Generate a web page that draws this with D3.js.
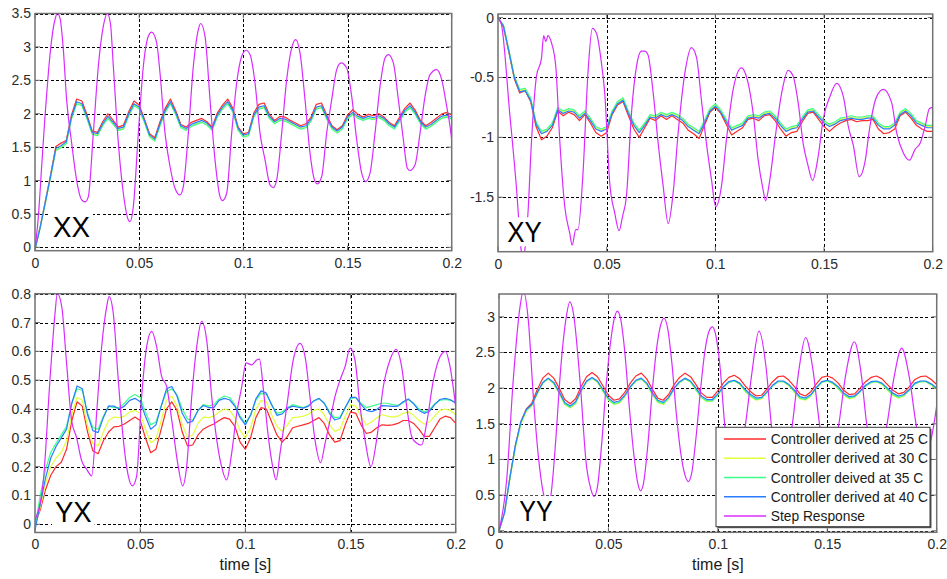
<!DOCTYPE html>
<html><head><meta charset="utf-8">
<script src="https://cdn.jsdelivr.net/npm/d3@7"></script>
<style>
body{margin:0;background:#fff}
svg{display:block}
text{font-family:"Liberation Sans",Arial,Helvetica,sans-serif}
</style></head>
<body><svg id="chart" width="947" height="579"></svg>
<script>
// ---------- DATA ----------
const sampleTimes = [0,0.0025,0.005,0.0075,0.01,0.0125,0.015,0.0175,0.02,0.0225,0.025,0.0275,0.03,0.0325,0.035,0.0375,0.04,0.0425,0.045,0.0475,0.05,0.0525,0.055,0.0575,0.06,0.0625,0.065,0.0675,0.07,0.0725,0.075,0.0775,0.08,0.0825,0.085,0.0875,0.09,0.0925,0.095,0.0975,0.1,0.1025,0.105,0.1075,0.11,0.1125,0.115,0.1175,0.12,0.1225,0.125,0.1275,0.13,0.1325,0.135,0.1375,0.14,0.1425,0.145,0.1475,0.15,0.1525,0.155,0.1575,0.16,0.1625,0.165,0.1675,0.17,0.1725,0.175,0.1775,0.18,0.1825,0.185,0.1875,0.19,0.1925,0.195,0.1975,0.2];

const seriesNames = ["Controller derived at 25 C","Controller derived at 30 C","Controller deived at 35 C","Controller derived at 40 C","Step Response"];
const seriesColors = ["#ff2a2a","#e2ff3c","#3dff8a","#2a7dff","#d82cff"];

const xTicks = [0,0.05,0.1,0.15,0.2];
const xxYTicks = [0,0.5,1,1.5,2,2.5,3,3.5];
const xyYTicks = [0,-0.5,-1,-1.5];
const yxYTicks = [0,0.1,0.2,0.3,0.4,0.5,0.6,0.7,0.8];
const yyYTicks = [0,0.5,1,1.5,2,2.5,3];

// XX
const xx25 = [-0.03,0.31,0.7,1.09,1.51,1.56,1.6,1.98,2.22,2.19,1.98,1.74,1.72,1.88,2.0,1.9,1.8,1.83,2.03,2.19,2.13,1.92,1.7,1.64,1.88,2.08,2.22,2.05,1.84,1.8,1.87,1.9,1.93,1.88,1.8,2.01,2.13,2.22,2.08,1.8,1.7,1.72,2.01,2.14,2.16,1.99,1.9,1.96,1.95,1.9,1.86,1.82,1.85,1.95,2.14,2.16,1.98,1.82,1.76,1.82,1.98,2.06,1.99,1.95,1.99,1.97,2.0,1.95,1.87,1.82,1.95,2.08,2.16,2.05,1.9,1.82,1.87,1.93,1.99,2.02,1.98];
const xx30 = [-0.03,0.29,0.67,1.05,1.46,1.5,1.56,1.93,2.16,2.13,1.93,1.7,1.68,1.83,1.94,1.85,1.76,1.78,1.98,2.13,2.08,1.88,1.66,1.6,1.83,2.03,2.16,2.0,1.8,1.76,1.82,1.85,1.88,1.84,1.76,1.96,2.08,2.16,2.03,1.76,1.66,1.68,1.96,2.08,2.1,1.94,1.86,1.91,1.9,1.86,1.82,1.78,1.8,1.9,2.08,2.1,1.93,1.78,1.72,1.78,1.93,2.0,1.94,1.91,1.94,1.92,1.95,1.91,1.83,1.78,1.9,2.03,2.1,2.0,1.86,1.78,1.82,1.88,1.94,1.96,1.93];
const xx35 = [-0.03,0.3,0.67,1.05,1.45,1.49,1.55,1.92,2.15,2.12,1.92,1.69,1.67,1.82,1.93,1.84,1.75,1.77,1.97,2.12,2.07,1.87,1.65,1.59,1.82,2.02,2.15,1.99,1.79,1.75,1.81,1.84,1.87,1.83,1.75,1.95,2.07,2.15,2.02,1.75,1.65,1.67,1.95,2.07,2.09,1.93,1.85,1.9,1.89,1.85,1.81,1.77,1.79,1.89,2.07,2.09,1.92,1.77,1.71,1.77,1.92,1.99,1.93,1.9,1.93,1.91,1.94,1.9,1.82,1.77,1.89,2.02,2.09,1.99,1.85,1.77,1.81,1.87,1.93,1.95,1.92];
const xx40 = [-0.03,0.3,0.68,1.07,1.48,1.52,1.58,1.95,2.18,2.15,1.95,1.72,1.7,1.85,1.96,1.87,1.78,1.8,2.0,2.15,2.1,1.9,1.68,1.62,1.85,2.05,2.18,2.02,1.82,1.78,1.84,1.87,1.9,1.86,1.78,1.98,2.1,2.18,2.05,1.78,1.68,1.7,1.98,2.1,2.12,1.96,1.88,1.93,1.92,1.88,1.84,1.8,1.82,1.92,2.1,2.12,1.95,1.8,1.74,1.8,1.95,2.02,1.96,1.93,1.96,1.94,1.97,1.93,1.85,1.8,1.92,2.05,2.12,2.02,1.88,1.8,1.84,1.9,1.96,1.98,1.95];
const xxStep = [[0,-0.03],[0.0016,0.46],[0.0032,1.21],[0.0048,1.96],[0.0064,2.61],[0.008,3.11],[0.0096,3.41],[0.0107,3.5],[0.012,3.43],[0.0136,2.96],[0.0152,2.2],[0.0176,1.56],[0.02,1.0],[0.0224,0.71],[0.024,0.68],[0.0256,0.76],[0.028,1.71],[0.0304,2.71],[0.0328,3.31],[0.0347,3.5],[0.0362,3.35],[0.0376,2.71],[0.04,1.56],[0.0424,0.81],[0.0448,0.41],[0.0456,0.385],[0.0472,0.61],[0.0496,1.71],[0.052,2.71],[0.0544,3.16],[0.056,3.22],[0.0584,3.06],[0.06,2.61],[0.0624,1.71],[0.0648,1.21],[0.0672,0.885],[0.0696,0.785],[0.0712,0.91],[0.0736,1.71],[0.076,2.71],[0.0784,3.26],[0.0795,3.35],[0.0816,3.16],[0.084,2.21],[0.0864,1.31],[0.0888,0.76],[0.09,0.7],[0.092,0.81],[0.0944,1.71],[0.0968,2.46],[0.0992,2.86],[0.1013,2.95],[0.1032,2.885],[0.1056,2.46],[0.108,1.71],[0.1104,1.31],[0.1128,0.935],[0.1144,0.895],[0.116,1.01],[0.1184,1.71],[0.1208,2.51],[0.1232,2.985],[0.1251,3.11],[0.1272,2.91],[0.1296,2.21],[0.132,1.41],[0.1344,0.985],[0.1355,0.95],[0.1376,1.06],[0.14,1.71],[0.1424,2.21],[0.1448,2.66],[0.1469,2.76],[0.1496,2.685],[0.152,2.26],[0.1544,1.61],[0.1568,1.11],[0.1587,0.985],[0.1608,1.11],[0.1632,1.71],[0.1656,2.41],[0.168,2.835],[0.1696,2.885],[0.172,2.76],[0.1744,2.21],[0.1768,1.61],[0.1787,1.185],[0.18,1.15],[0.1824,1.235],[0.1848,1.71],[0.1872,2.26],[0.1896,2.585],[0.1928,2.66],[0.1952,2.51],[0.1976,2.11],[0.1992,1.81],[0.2,1.61]];

// XY
const xy25 = [0,-0.08,-0.29,-0.51,-0.63,-0.61,-0.7,-0.91,-1.02,-0.99,-0.92,-0.78,-0.82,-0.79,-0.81,-0.86,-0.81,-0.88,-0.96,-0.99,-0.96,-0.81,-0.73,-0.7,-0.82,-0.93,-1.0,-0.92,-0.84,-0.86,-0.82,-0.85,-0.82,-0.85,-0.88,-0.94,-0.97,-1.01,-0.9,-0.79,-0.75,-0.8,-0.89,-0.98,-0.95,-0.92,-0.85,-0.84,-0.86,-0.82,-0.81,-0.86,-0.93,-0.99,-0.96,-0.95,-0.87,-0.8,-0.79,-0.85,-0.91,-0.95,-0.91,-0.88,-0.86,-0.85,-0.87,-0.86,-0.86,-0.85,-0.93,-0.97,-0.96,-0.93,-0.82,-0.79,-0.84,-0.9,-0.93,-0.95,-0.95];
const xy30 = [0,-0.07,-0.27,-0.49,-0.61,-0.6,-0.68,-0.88,-0.96,-0.94,-0.89,-0.76,-0.79,-0.77,-0.78,-0.83,-0.79,-0.85,-0.92,-0.94,-0.92,-0.79,-0.71,-0.68,-0.79,-0.89,-0.95,-0.89,-0.82,-0.83,-0.8,-0.82,-0.8,-0.82,-0.85,-0.9,-0.93,-0.96,-0.87,-0.77,-0.73,-0.78,-0.86,-0.93,-0.91,-0.89,-0.83,-0.82,-0.83,-0.8,-0.79,-0.83,-0.89,-0.94,-0.92,-0.91,-0.84,-0.78,-0.77,-0.82,-0.87,-0.9,-0.88,-0.85,-0.84,-0.83,-0.84,-0.84,-0.83,-0.83,-0.89,-0.92,-0.92,-0.89,-0.8,-0.77,-0.81,-0.87,-0.89,-0.91,-0.91];
const xy35 = [0,-0.06,-0.27,-0.49,-0.6,-0.59,-0.67,-0.87,-0.95,-0.93,-0.88,-0.75,-0.78,-0.76,-0.77,-0.82,-0.78,-0.84,-0.91,-0.93,-0.91,-0.78,-0.7,-0.67,-0.78,-0.88,-0.94,-0.88,-0.81,-0.82,-0.79,-0.81,-0.79,-0.81,-0.84,-0.89,-0.92,-0.95,-0.86,-0.76,-0.72,-0.77,-0.85,-0.92,-0.9,-0.88,-0.82,-0.81,-0.82,-0.79,-0.78,-0.82,-0.88,-0.93,-0.91,-0.9,-0.83,-0.77,-0.76,-0.81,-0.86,-0.89,-0.87,-0.84,-0.83,-0.82,-0.83,-0.83,-0.82,-0.82,-0.88,-0.91,-0.91,-0.88,-0.79,-0.76,-0.8,-0.86,-0.88,-0.9,-0.9];
const xy40 = [0,-0.07,-0.28,-0.5,-0.62,-0.61,-0.69,-0.89,-0.97,-0.95,-0.9,-0.77,-0.8,-0.78,-0.79,-0.84,-0.8,-0.86,-0.93,-0.95,-0.93,-0.8,-0.72,-0.69,-0.8,-0.9,-0.96,-0.9,-0.83,-0.84,-0.81,-0.83,-0.81,-0.83,-0.86,-0.91,-0.94,-0.97,-0.88,-0.78,-0.74,-0.79,-0.87,-0.94,-0.92,-0.9,-0.84,-0.83,-0.84,-0.81,-0.8,-0.84,-0.9,-0.95,-0.93,-0.92,-0.85,-0.79,-0.78,-0.83,-0.88,-0.91,-0.89,-0.86,-0.85,-0.84,-0.85,-0.85,-0.84,-0.84,-0.9,-0.93,-0.93,-0.9,-0.81,-0.78,-0.82,-0.88,-0.9,-0.92,-0.92];
const xyStep = [[0,0],[0.0015,-0.05],[0.0054,-0.8],[0.0084,-1.4],[0.0107,-1.95],[0.0115,-2.05],[0.0123,-1.95],[0.0138,-1.63],[0.0153,-1.07],[0.0177,-0.49],[0.02,-0.34],[0.021,-0.15],[0.022,-0.2],[0.023,-0.15],[0.0246,-0.21],[0.0266,-0.41],[0.0284,-1.02],[0.0307,-1.575],[0.033,-1.8],[0.0341,-1.9],[0.0358,-1.77],[0.0368,-1.77],[0.0391,-1.3],[0.0414,-0.46],[0.0434,-0.09],[0.0453,-0.13],[0.0476,-0.38],[0.0491,-0.63],[0.0514,-1.38],[0.0537,-1.63],[0.0557,-1.78],[0.0573,-1.66],[0.0591,-1.49],[0.0614,-0.8],[0.0637,-0.41],[0.066,-0.28],[0.0675,-0.28],[0.069,-0.31],[0.0714,-0.63],[0.0737,-1.05],[0.076,-1.41],[0.0783,-1.72],[0.0806,-1.46],[0.0829,-0.96],[0.086,-0.46],[0.089,-0.25],[0.0913,-0.33],[0.0936,-0.69],[0.0959,-1.05],[0.0982,-1.35],[0.1002,-1.58],[0.1028,-1.41],[0.1051,-1.02],[0.1082,-0.6],[0.112,-0.42],[0.1151,-0.55],[0.1174,-0.8],[0.1197,-1.19],[0.122,-1.44],[0.1231,-1.53],[0.1251,-1.35],[0.1274,-1.02],[0.1305,-0.63],[0.1335,-0.44],[0.1358,-0.49],[0.1381,-0.71],[0.1404,-1.05],[0.1427,-1.24],[0.1447,-1.36],[0.1473,-1.16],[0.1496,-0.85],[0.1527,-0.66],[0.1558,-0.55],[0.1589,-0.66],[0.1612,-0.91],[0.1635,-1.07],[0.1662,-1.33],[0.1688,-1.21],[0.1711,-0.91],[0.1742,-0.66],[0.1773,-0.6],[0.1811,-0.71],[0.1834,-0.96],[0.1865,-1.13],[0.1893,-1.19],[0.1919,-1.1],[0.1942,-1.05],[0.1965,-0.91],[0.1985,-0.76],[0.2,-0.75]];

// YX
const yx25 = [0,0.05,0.12,0.17,0.2,0.215,0.26,0.36,0.425,0.41,0.32,0.255,0.245,0.29,0.32,0.338,0.34,0.348,0.36,0.372,0.36,0.3,0.248,0.26,0.33,0.4,0.425,0.395,0.32,0.272,0.275,0.31,0.33,0.34,0.348,0.36,0.37,0.365,0.34,0.285,0.26,0.3,0.37,0.405,0.4,0.355,0.31,0.285,0.305,0.335,0.34,0.345,0.35,0.36,0.37,0.35,0.31,0.285,0.29,0.345,0.39,0.385,0.345,0.315,0.32,0.335,0.345,0.343,0.345,0.35,0.36,0.36,0.35,0.33,0.305,0.305,0.335,0.365,0.375,0.37,0.35];
const yx30 = [-0.01,0.06,0.14,0.2,0.23,0.25,0.29,0.38,0.44,0.43,0.34,0.28,0.272,0.32,0.36,0.372,0.37,0.375,0.39,0.395,0.385,0.33,0.283,0.295,0.36,0.43,0.445,0.41,0.345,0.302,0.31,0.35,0.372,0.37,0.375,0.39,0.4,0.395,0.37,0.325,0.3,0.335,0.4,0.43,0.425,0.38,0.34,0.322,0.345,0.37,0.372,0.375,0.382,0.395,0.4,0.38,0.345,0.322,0.33,0.375,0.415,0.41,0.375,0.345,0.355,0.37,0.38,0.375,0.372,0.375,0.385,0.39,0.378,0.36,0.348,0.355,0.375,0.395,0.4,0.395,0.38];
const yx35 = [-0.01,0.1,0.19,0.25,0.28,0.31,0.34,0.42,0.47,0.465,0.385,0.335,0.33,0.375,0.41,0.405,0.405,0.42,0.44,0.45,0.44,0.39,0.345,0.355,0.41,0.46,0.47,0.45,0.4,0.365,0.362,0.395,0.415,0.41,0.415,0.435,0.445,0.44,0.415,0.375,0.35,0.38,0.43,0.455,0.45,0.415,0.385,0.39,0.405,0.415,0.41,0.405,0.412,0.428,0.435,0.42,0.39,0.37,0.372,0.405,0.435,0.44,0.42,0.405,0.41,0.415,0.42,0.42,0.415,0.412,0.422,0.432,0.42,0.4,0.39,0.398,0.418,0.43,0.433,0.43,0.425];
const yx40 = [-0.02,0.07,0.16,0.23,0.27,0.3,0.33,0.42,0.48,0.47,0.38,0.325,0.318,0.37,0.41,0.41,0.4,0.41,0.43,0.437,0.425,0.375,0.33,0.345,0.41,0.47,0.478,0.445,0.385,0.352,0.358,0.395,0.412,0.405,0.405,0.43,0.437,0.432,0.41,0.37,0.345,0.378,0.435,0.463,0.455,0.415,0.378,0.383,0.402,0.41,0.406,0.403,0.41,0.428,0.437,0.42,0.385,0.362,0.368,0.405,0.44,0.44,0.415,0.395,0.391,0.398,0.412,0.411,0.409,0.41,0.425,0.435,0.418,0.395,0.385,0.392,0.415,0.433,0.437,0.432,0.42];
const yxStep = [[0,0.015],[0.004,0.154],[0.0071,0.5],[0.0095,0.73],[0.0106,0.8],[0.0127,0.756],[0.015,0.56],[0.0174,0.36],[0.0198,0.3],[0.0222,0.22],[0.0246,0.19],[0.027,0.168],[0.0293,0.385],[0.0317,0.617],[0.0341,0.756],[0.0352,0.79],[0.0372,0.733],[0.0396,0.5],[0.042,0.293],[0.0444,0.166],[0.0463,0.133],[0.0483,0.166],[0.0507,0.443],[0.0531,0.617],[0.0555,0.669],[0.0578,0.617],[0.0602,0.513],[0.0626,0.478],[0.065,0.362],[0.0681,0.2],[0.0702,0.133],[0.0721,0.2],[0.0745,0.443],[0.0769,0.617],[0.0792,0.704],[0.0816,0.64],[0.084,0.443],[0.0864,0.293],[0.0887,0.2],[0.0911,0.154],[0.0935,0.247],[0.0959,0.385],[0.0983,0.478],[0.1003,0.56],[0.103,0.553],[0.1054,0.57],[0.1067,0.573],[0.1086,0.466],[0.1109,0.304],[0.113,0.2],[0.1146,0.154],[0.1165,0.247],[0.1197,0.409],[0.1228,0.571],[0.126,0.628],[0.1284,0.582],[0.1307,0.443],[0.1331,0.293],[0.1358,0.214],[0.1379,0.281],[0.1403,0.362],[0.1426,0.443],[0.145,0.5],[0.1474,0.547],[0.1498,0.611],[0.1521,0.57],[0.1545,0.409],[0.1569,0.293],[0.1597,0.2],[0.1624,0.293],[0.1656,0.478],[0.1688,0.571],[0.1716,0.607],[0.1743,0.547],[0.1767,0.409],[0.1791,0.304],[0.1815,0.281],[0.1838,0.275],[0.1862,0.351],[0.1894,0.5],[0.1926,0.582],[0.1952,0.6],[0.1973,0.547],[0.2,0.409]];

// YY
const yy25 = [0,0.25,0.75,1.2,1.53,1.71,1.79,1.98,2.14,2.21,2.14,2.0,1.84,1.78,1.85,2.02,2.16,2.22,2.16,2.03,1.9,1.83,1.85,1.94,2.07,2.17,2.21,2.13,1.99,1.86,1.83,1.91,2.05,2.15,2.21,2.16,2.05,1.93,1.87,1.87,1.96,2.07,2.15,2.18,2.13,2.03,1.95,1.89,1.9,1.99,2.09,2.16,2.17,2.11,2.02,1.92,1.89,1.95,2.06,2.15,2.17,2.14,2.07,1.97,1.91,1.92,2.0,2.09,2.15,2.17,2.13,2.05,1.97,1.92,1.94,2.02,2.12,2.16,2.17,2.12,2.05];
const yy30 = [0,0.24,0.73,1.17,1.5,1.68,1.75,1.92,2.07,2.13,2.06,1.92,1.77,1.72,1.78,1.95,2.09,2.14,2.08,1.95,1.83,1.77,1.79,1.88,2.01,2.1,2.13,2.05,1.91,1.8,1.77,1.85,1.99,2.08,2.13,2.08,1.97,1.86,1.81,1.82,1.9,2.01,2.08,2.1,2.05,1.95,1.88,1.83,1.85,1.94,2.03,2.09,2.09,2.03,1.94,1.85,1.83,1.89,2.0,2.08,2.1,2.06,1.99,1.9,1.85,1.87,1.95,2.03,2.08,2.09,2.05,1.97,1.9,1.86,1.89,1.97,2.06,2.09,2.09,2.04,1.98];
const yy35 = [0,0.25,0.74,1.18,1.51,1.69,1.76,1.93,2.07,2.13,2.07,1.93,1.78,1.73,1.79,1.96,2.09,2.14,2.09,1.96,1.84,1.78,1.8,1.89,2.01,2.1,2.13,2.06,1.92,1.81,1.78,1.86,1.99,2.08,2.13,2.09,1.98,1.87,1.82,1.82,1.91,2.01,2.08,2.1,2.06,1.96,1.89,1.84,1.86,1.94,2.03,2.09,2.09,2.04,1.95,1.86,1.84,1.9,2.0,2.08,2.1,2.07,2.0,1.91,1.86,1.88,1.95,2.03,2.08,2.09,2.06,1.98,1.91,1.87,1.9,1.97,2.06,2.09,2.09,2.05,1.99];
const yy40 = [0,0.25,0.75,1.2,1.53,1.7,1.77,1.94,2.08,2.14,2.08,1.95,1.8,1.75,1.81,1.97,2.1,2.15,2.1,1.98,1.86,1.8,1.82,1.9,2.02,2.11,2.14,2.07,1.94,1.83,1.8,1.87,2.0,2.09,2.14,2.1,2.0,1.89,1.84,1.84,1.92,2.02,2.09,2.11,2.07,1.98,1.91,1.86,1.87,1.95,2.04,2.1,2.1,2.05,1.97,1.88,1.86,1.91,2.01,2.09,2.11,2.08,2.02,1.93,1.88,1.89,1.96,2.04,2.09,2.1,2.07,2.0,1.93,1.89,1.91,1.98,2.07,2.1,2.1,2.06,2.0];
const yyStep = [[0,0],[0.0035,0.71],[0.0065,2.11],[0.0096,3.14],[0.0111,3.36],[0.0134,2.95],[0.0157,1.88],[0.018,1.04],[0.0203,0.52],[0.022,0.35],[0.0237,0.5],[0.026,1.3],[0.028,2.2],[0.0305,2.95],[0.0324,3.21],[0.034,3.05],[0.037,2.11],[0.04,0.9],[0.042,0.58],[0.0434,0.48],[0.045,0.62],[0.047,1.25],[0.049,2.05],[0.051,2.65],[0.0525,2.95],[0.0541,3.08],[0.0555,2.98],[0.0575,2.5],[0.0595,1.75],[0.0615,1.1],[0.0632,0.7],[0.0647,0.56],[0.066,0.66],[0.068,1.2],[0.07,1.95],[0.072,2.55],[0.074,2.9],[0.0754,2.98],[0.077,2.85],[0.079,2.35],[0.081,1.65],[0.083,1.1],[0.085,0.78],[0.0865,0.69],[0.088,0.8],[0.09,1.3],[0.092,1.95],[0.094,2.5],[0.096,2.8],[0.0975,2.86],[0.099,2.75],[0.101,2.3],[0.1033,1.44],[0.108,0.82],[0.1124,1.44],[0.1155,2.2],[0.1188,2.8],[0.122,2.3],[0.1246,1.44],[0.129,0.88],[0.1338,1.44],[0.137,2.25],[0.1401,2.71],[0.1435,2.25],[0.1467,1.44],[0.1509,0.97],[0.155,1.44],[0.1585,2.2],[0.1624,2.65],[0.1655,2.2],[0.168,1.5],[0.1725,1.03],[0.177,1.44],[0.1805,2.15],[0.184,2.56],[0.1875,2.15],[0.1909,1.44],[0.1955,1.12],[0.1977,1.32],[0.2,1.75]];

// ---------- LAYOUT ----------
const panels = [
  {id:"xx", name:"XX", l:35, r:451.7, t:13.5, b:250.7, yDom:[-0.05,3.5], yTicks:xxYTicks, ctrl:[xx25,xx30,xx35,xx40], step:xxStep, lx:53, ly:237.3, lw:37, xlabel:false},
  {id:"xy", name:"XY", l:498, r:932.7, t:14, b:251.7, yDom:[-1.955,0.03], yTicks:xyYTicks, ctrl:[xy25,xy30,xy35,xy40], step:xyStep, lx:507.3, ly:242.3, lw:34.5, xlabel:false},
  {id:"yx", name:"YX", l:35, r:455.7, t:293.7, b:532.5, yDom:[-0.0285,0.8], yTicks:yxYTicks, ctrl:[yx25,yx30,yx35,yx40], step:yxStep, lx:55, ly:521.7, lw:36.7, xlabel:true},
  {id:"yy", name:"YY", l:499, r:936.7, t:294, b:532.3, yDom:[-0.022,3.32], yTicks:yyYTicks, ctrl:[yy25,yy30,yy35,yy40], step:yyStep, lx:519.3, ly:520.7, lw:33.5, xlabel:true}
];

const svg = d3.select("#chart");
const defs = svg.append("defs");
const tickCol = "#2b2b2b";

panels.forEach(p => {
  const x = d3.scaleLinear().domain([0,0.2]).range([p.l,p.r]);
  const y = d3.scaleLinear().domain(p.yDom).range([p.b,p.t]);
  const w = p.r - p.l, h = p.b - p.t;
  const g = svg.append("g");

  defs.append("clipPath").attr("id","clip-"+p.id)
    .append("rect").attr("x",p.l).attr("y",p.t).attr("width",w).attr("height",h);

  // grid
  const gridY = g.append("g").attr("transform",`translate(${p.l},0)`)
    .call(d3.axisLeft(y).tickValues(p.yTicks).tickSize(-w).tickFormat(""));
  const gridX = g.append("g").attr("transform",`translate(0,${p.b})`)
    .call(d3.axisBottom(x).tickValues(xTicks.slice(1,-1)).tickSize(-h).tickFormat(""));
  [gridY,gridX].forEach(gg => {
    gg.select(".domain").remove();
    gg.selectAll("line").attr("stroke","#000").attr("stroke-width",1).attr("stroke-dasharray","3,2.2")
      .attr("shape-rendering","crispEdges");
  });

  // lines
  const lines = g.append("g").attr("clip-path",`url(#clip-${p.id})`);
  const ctrlLine = d3.line().x((d,i)=>x(sampleTimes[i])).y(d=>y(d));
  p.ctrl.forEach((vals,i) => {
    lines.append("path").datum(vals).attr("d",ctrlLine)
      .attr("fill","none").attr("stroke",seriesColors[i]).attr("stroke-width",1.2).attr("stroke-linejoin","round");
  });
  const stepLine = d3.line().x(d=>x(d[0])).y(d=>y(d[1])).curve(d3.curveMonotoneX);
  lines.append("path").datum(p.step).attr("d",stepLine)
    .attr("fill","none").attr("stroke",seriesColors[4]).attr("stroke-width",1.2);

  // panel label with white background
  const lblG = g.append("g");
  const lbl = lblG.append("text").attr("x",p.lx).attr("y",p.ly)
    .attr("font-size",29).attr("fill","#000").attr("textLength",p.lw).attr("lengthAdjust","spacingAndGlyphs").text(p.name);
  const bb = lbl.node().getBBox();
  lblG.insert("rect","text").attr("x",bb.x-3).attr("y",p.ly-25).attr("width",bb.width+6).attr("height",29).attr("fill","#fff");

  // border
  g.append("rect").attr("x",p.l).attr("y",p.t).attr("width",w).attr("height",h)
    .attr("fill","none").attr("stroke","#727272").attr("stroke-width",1.5);

  // inner ticks on all sides
  const tk = g.append("g").attr("stroke","#727272").attr("stroke-width",1);
  p.yTicks.forEach(v => {
    tk.append("line").attr("x1",p.l).attr("x2",p.l+5).attr("y1",y(v)).attr("y2",y(v));
    tk.append("line").attr("x1",p.r).attr("x2",p.r-5).attr("y1",y(v)).attr("y2",y(v));
  });
  xTicks.forEach(v => {
    tk.append("line").attr("x1",x(v)).attr("x2",x(v)).attr("y1",p.b).attr("y2",p.b-5);
    tk.append("line").attr("x1",x(v)).attr("x2",x(v)).attr("y1",p.t).attr("y2",p.t+5);
  });

  // tick labels via axes
  const ay = g.append("g").attr("transform",`translate(${p.l},0)`)
    .call(d3.axisLeft(y).tickValues(p.yTicks).tickSize(0).tickPadding(4).tickFormat(d=>String(d)));
  const ax = g.append("g").attr("transform",`translate(0,${p.b})`)
    .call(d3.axisBottom(x).tickValues(xTicks).tickSize(0).tickPadding(7).tickFormat(d=>String(d)));
  [ay,ax].forEach(a => {
    a.select(".domain").remove();
    a.selectAll("text").attr("font-size",14).attr("fill",tickCol).attr("font-family","'Liberation Sans',Arial,sans-serif");
  });

  if (p.xlabel) {
    g.append("text").attr("x",(p.l+p.r)/2).attr("y",570).attr("text-anchor","middle")
      .attr("font-size",16).attr("fill","#1a1a1a").text("time [s]");
  }

  // legend in YY panel
  if (p.id === "yy") {
    const lg = g.append("g");
    const lx0 = 716, ly0 = 427.3, lw = 214, lh = 99.4;
    lg.append("rect").attr("x",lx0+1.5).attr("y",ly0+1.5).attr("width",lw).attr("height",lh).attr("fill","#555");
    lg.append("rect").attr("x",lx0).attr("y",ly0).attr("width",lw).attr("height",lh)
      .attr("fill","#fff").attr("stroke","#3a3a3a").attr("stroke-width",1);
    const rowY = d3.scaleLinear().domain([0,4]).range([439,516]);
    seriesNames.forEach((nm,i) => {
      lg.append("line").attr("x1",724).attr("x2",766).attr("y1",rowY(i)).attr("y2",rowY(i))
        .attr("stroke",seriesColors[i]).attr("stroke-width",1.3);
      lg.append("text").attr("x",770.7).attr("y",rowY(i)+5).attr("font-size",13.8).attr("fill","#1a1a1a").text(nm);
    });
  }
});
</script>
</body></html>
